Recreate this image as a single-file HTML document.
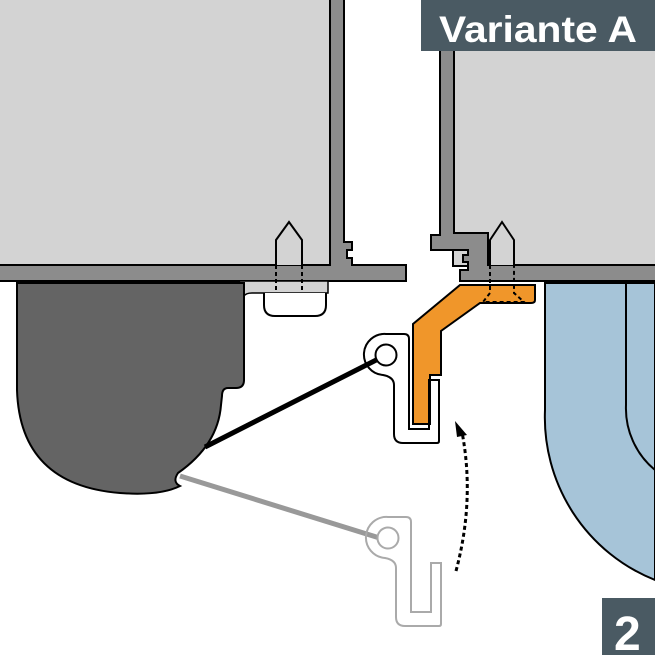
<!DOCTYPE html>
<html><head><meta charset="utf-8"><style>
html,body{margin:0;padding:0;background:#fff;width:655px;height:655px;overflow:hidden}
svg{display:block}
.lbl{font-family:"Liberation Sans",sans-serif;font-weight:bold;fill:#fff}
</style></head><body>
<svg width="655" height="655" viewBox="0 0 655 655" xmlns="http://www.w3.org/2000/svg">
<!-- blue shape -->
<path d="M545,283 L655,283 L655,580 A 175 175 0 0 1 545,410 Z" fill="#a6c4d8" stroke="#000" stroke-width="2"/>
<path d="M626,283 L626,405 A 80 80 0 0 0 655,470" fill="none" stroke="#000" stroke-width="2"/>
<!-- left panel -->
<rect x="-2" y="-2" width="333" height="268" fill="#d3d3d3" stroke="#000" stroke-width="2"/>
<path d="M330,-2 L344,-2 L344,242 L352,242 L352,250 L347,250 L347,258 L352,258 L352,265 L406,265 L406,281 L-2,281 L-2,265 L330,265 Z" fill="#8c8c8c" stroke="#000" stroke-width="2"/>
<!-- strip under bar -->
<path d="M240,281 L328,281 L328,293 L252,293 Q246,293 244,296" fill="#d3d3d3" stroke="#000" stroke-width="1.5"/>
<!-- screw left -->
<path d="M276,265 L276,240 L289,222 L302,240 L302,265" fill="#d3d3d3" stroke="#000" stroke-width="2"/>
<path d="M276,265 L276,295 M302,265 L302,295" stroke="#000" stroke-width="2" stroke-dasharray="4,3"/>
<path d="M264,293 L264,305 Q264,316 275,316 L315,316 Q326,316 326,305 L326,293" fill="#fff" stroke="#000" stroke-width="2"/>
<!-- dark bag -->
<path d="M17,283 L244,283 L244,380 Q244,388 236,388 L228,388 Q222,388 222,396 L221,405 Q218,445 178,473 Q172,482 180,486 Q160,496 120,493 Q20,485 17,390 Z" fill="#646464" stroke="#000" stroke-width="2"/>
<!-- cords -->
<line x1="205" y1="447" x2="384" y2="356" stroke="#000" stroke-width="5"/>
<line x1="180" y1="476" x2="386" y2="540" stroke="#999" stroke-width="5"/>
<!-- right panel -->
<rect x="453" y="-2" width="205" height="268" fill="#d3d3d3" stroke="#000" stroke-width="2"/>
<path d="M440,-2 L454,-2 L454,233 L488,233 L488,265 L657,265 L657,281 L460,281 L460,270 L468,270 L468,262 L463,262 L463,255 L468,255 L468,250 L431,250 L431,235 L440,235 Z" fill="#8c8c8c" stroke="#000" stroke-width="2"/>
<!-- orange bracket -->
<path d="M460,285 L535,285 L535,300 Q535,303 531,303 L480,303 L441,331 L441,375 L430,375 L430,424 L413,424 L413,324 Z" fill="#f0962a" stroke="#000" stroke-width="2"/>
<!-- screw right -->
<path d="M490,265 L490,240 L502,222 L514,240 L514,265" fill="#d3d3d3" stroke="#000" stroke-width="2"/>
<path d="M490,265 L490,293 L483,302 L524,302 L514,293 L514,265" fill="none" stroke="#000" stroke-width="2" stroke-dasharray="4,3"/>
<!-- active hook -->
<g transform="translate(-2,-183)">
<path d="M388,517 L406,517 Q411,517 411,522 L411,612 L431,612 L431,563 L441,563 L441,624 Q441,626 439,626 L405,626 Q396,626 396,617 L396,568 Q396,560 385,558 A20.5 20.5 0 1 1 388,517 Z" fill="none" stroke="#000" stroke-width="2"/>
<circle cx="388" cy="538" r="10.5" fill="#fff" stroke="#000" stroke-width="2"/>
</g>
<!-- ghost hook -->
<path d="M388,517 L406,517 Q411,517 411,522 L411,612 L431,612 L431,563 L441,563 L441,624 Q441,626 439,626 L405,626 Q396,626 396,617 L396,568 Q396,560 385,558 A20.5 20.5 0 1 1 388,517 Z" fill="none" stroke="#aaa" stroke-width="2"/>
<circle cx="388" cy="538" r="10.5" fill="#fff" stroke="#aaa" stroke-width="2"/>
<!-- dotted arrow -->
<path d="M456,571 Q475,500 462,432" fill="none" stroke="#000" stroke-width="3" stroke-dasharray="4,3"/>
<path d="M455,421 L467,435 L457,437 Z" fill="#000"/>
<!-- labels -->
<rect x="421" y="0" width="234" height="51" fill="#4a5a63"/>
<text x="439" y="42" class="lbl" font-size="37" textLength="198" lengthAdjust="spacingAndGlyphs">Variante A</text>
<rect x="602" y="598" width="53" height="57" fill="#4a5a63"/>
<text x="614" y="650" class="lbl" font-size="48">2</text>
</svg>
</body></html>
